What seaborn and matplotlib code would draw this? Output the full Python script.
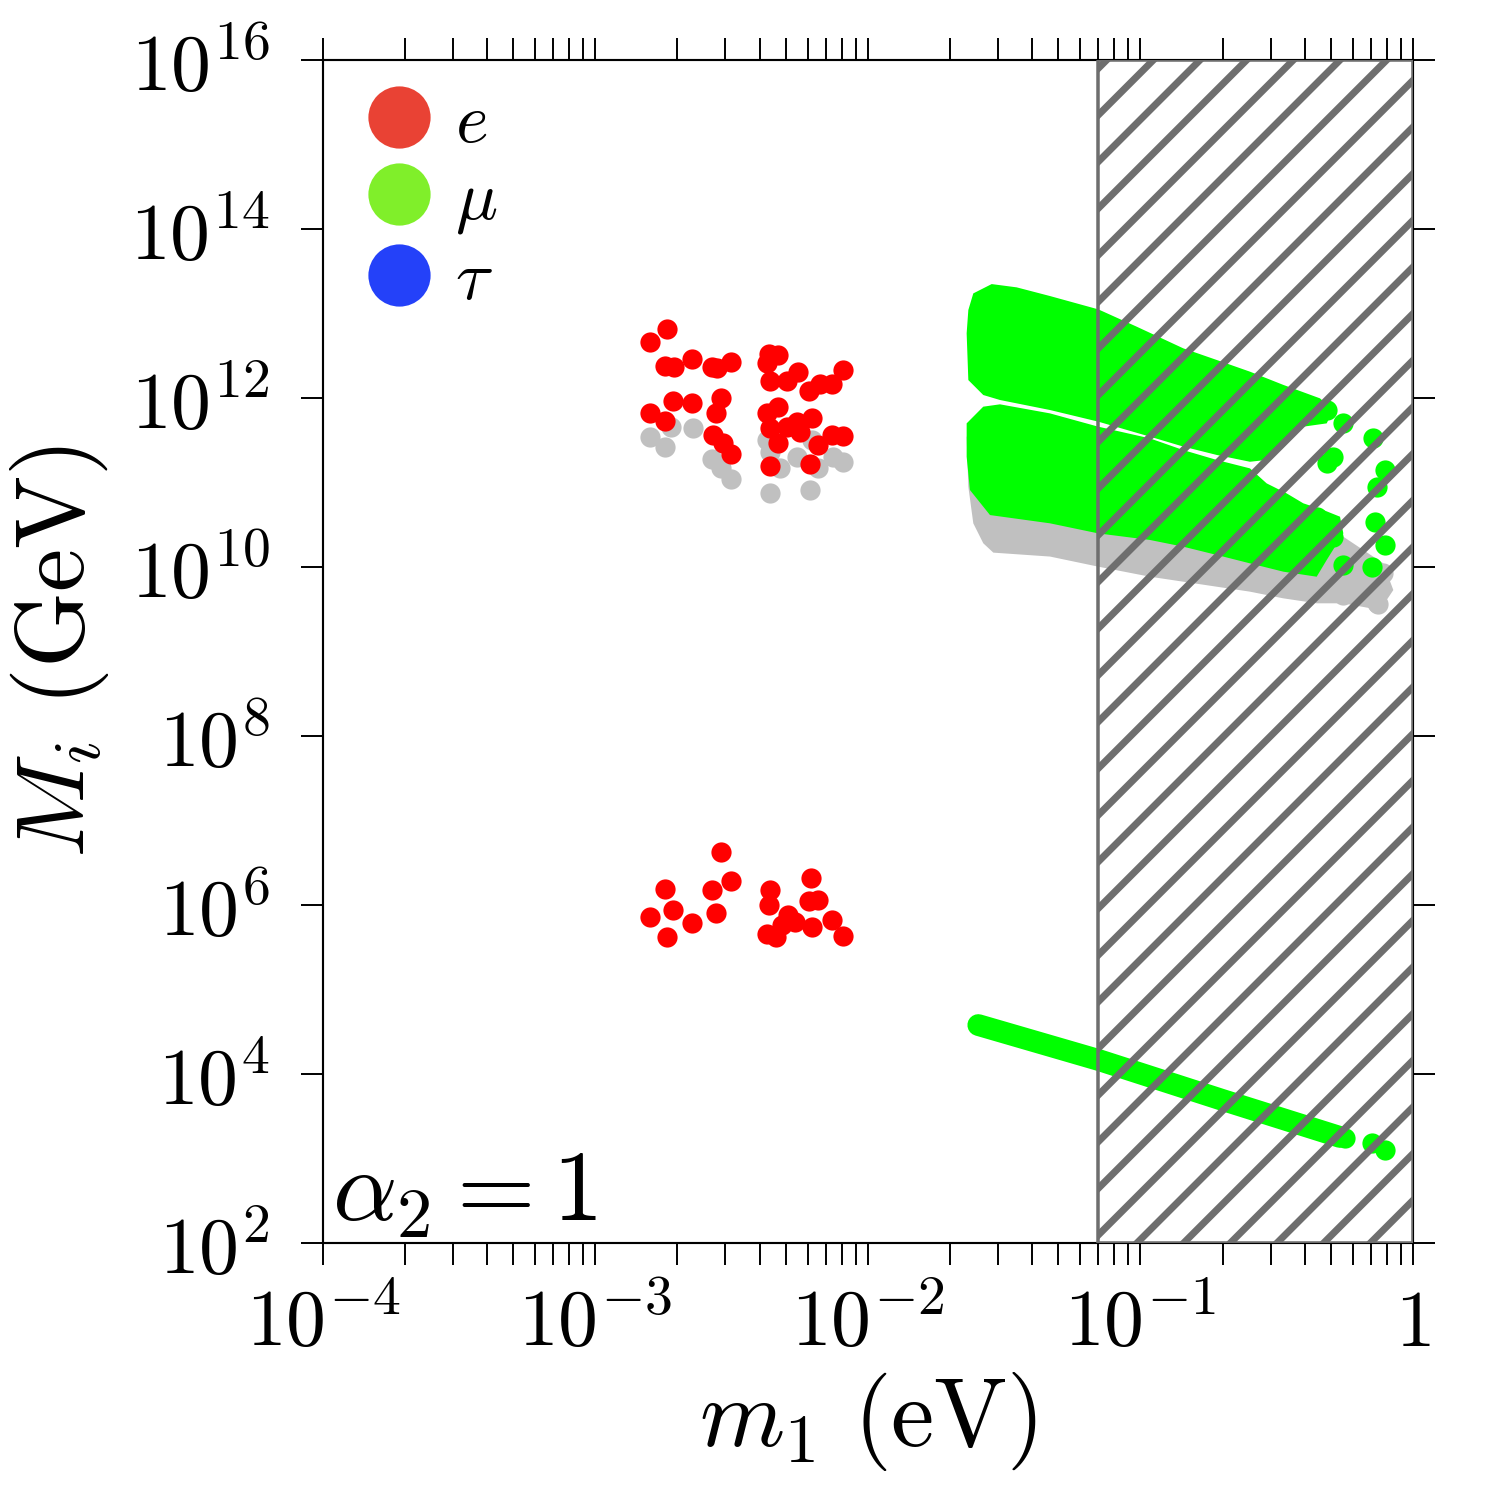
import numpy as np
import matplotlib
matplotlib.use("Agg")
import matplotlib.pyplot as plt
import seaborn as sns
from matplotlib.lines import Line2D
from matplotlib.ticker import LogLocator, NullLocator, NullFormatter

# ---- data (m1 in eV, M_i in GeV) ----
# red (e) points, upper cluster
red_hi_m1 = [1.58e-3, 1.83e-3, 1.80e-3, 1.94e-3, 2.27e-3, 2.67e-3, 2.80e-3, 3.14e-3,
             1.58e-3, 1.80e-3, 1.92e-3, 2.27e-3, 2.90e-3, 2.78e-3, 2.69e-3, 2.93e-3, 3.14e-3,
             4.34e-3, 4.69e-3, 4.25e-3, 4.37e-3, 5.03e-3, 5.55e-3, 6.09e-3, 6.67e-3, 7.36e-3, 8.07e-3,
             4.25e-3, 4.66e-3, 4.37e-3, 5.03e-3, 5.47e-3, 6.22e-3, 5.63e-3, 4.69e-3, 6.57e-3,
             7.36e-3, 8.12e-3, 4.37e-3, 6.12e-3]
red_hi_M = [4.6e12, 6.6e12, 2.4e12, 2.35e12, 2.9e12, 2.35e12, 2.25e12, 2.65e12,
            6.7e11, 5.4e11, 9.2e11, 8.8e11, 1.0e12, 6.7e11, 3.65e11, 2.9e11, 2.2e11,
            3.3e12, 3.2e12, 2.6e12, 1.6e12, 1.6e12, 2.05e12, 1.2e12, 1.45e12, 1.45e12, 2.15e12,
            6.6e11, 7.9e11, 4.4e11, 4.6e11, 5.2e11, 5.75e11, 4.0e11, 2.9e11, 2.8e11,
            3.65e11, 3.55e11, 1.55e11, 1.65e11]

# gray points behind the upper red cluster
gray_hi_m1 = [1.58e-3, 1.80e-3, 1.90e-3, 2.28e-3, 2.67e-3, 2.90e-3, 3.14e-3, 4.25e-3, 4.37e-3,
              4.75e-3, 4.37e-3, 5.47e-3, 6.12e-3, 6.57e-3, 7.46e-3, 8.12e-3, 6.22e-3]
gray_hi_M = [3.5e11, 2.65e11, 4.6e11, 4.4e11, 1.9e11, 1.47e11, 1.1e11, 3.2e11, 2.3e11,
             1.47e11, 7.6e10, 2.0e11, 8.2e10, 1.47e11, 2.0e11, 1.75e11, 3.2e11]

# red (e) points, lower cluster
red_lo_m1 = [2.88e-3, 3.13e-3, 2.68e-3, 1.80e-3, 1.92e-3, 1.58e-3, 1.83e-3, 2.27e-3, 2.78e-3,
             4.37e-3, 4.34e-3, 4.25e-3, 4.60e-3, 5.10e-3, 5.40e-3, 6.16e-3, 6.09e-3, 6.57e-3,
             6.25e-3, 7.36e-3, 8.07e-3, 4.82e-3]
red_lo_M = [4.2e6, 1.9e6, 1.5e6, 1.55e6, 8.7e5, 7.3e5, 4.2e5, 6.2e5, 8.0e5,
            1.5e6, 1.0e6, 4.6e5, 4.2e5, 7.6e5, 6.35e5, 2.1e6, 1.12e6, 1.15e6,
            5.5e5, 6.65e5, 4.3e5, 5.8e5]

# outline of the dense upper green (mu) band
green_top_m1 = [0.02335, 0.02435, 0.02844, 0.03512, 0.04654, 0.0700, 0.0968, 0.1436, 0.1904,
                0.2522, 0.3342, 0.4557, 0.5100,
                0.4822, 0.3959, 0.3342, 0.2904, 0.2522, 0.1904, 0.1436, 0.1083, 0.0700,
                0.04654, 0.03051, 0.02649, 0.02335, 0.02302]
green_top_M = [1.10e13, 1.73e13, 2.23e13, 2.04e13, 1.61e13, 1.12e13, 6.99e12, 3.87e12, 2.82e12,
               2.05e12, 1.43e12, 9.91e11, 7.21e11,
               5.01e11, 4.58e11, 2.60e11, 1.85e11, 1.76e11, 2.12e11, 2.66e11, 3.49e11, 5.25e11,
               7.21e11, 9.47e11, 1.085e12, 1.63e12, 5.83e12]

# outline of the dense middle green (mu) band
green_mid_m1 = [0.02302, 0.02649, 0.03051, 0.04654, 0.0700, 0.1083, 0.1436, 0.1904, 0.2522,
                0.2904, 0.3438, 0.3959, 0.4688, 0.5397,
                0.5551, 0.4822, 0.4431, 0.3342, 0.2522, 0.1904, 0.1436, 0.1083, 0.0700,
                0.04654, 0.02804, 0.02367, 0.02302]
green_mid_M = [5.01e11, 7.90e11, 8.42e11, 6.58e11, 4.58e11, 3.33e11, 2.42e11, 1.85e11, 1.47e11,
               9.77e10, 7.44e10, 5.67e10, 4.73e10, 3.94e10,
               2.50e10, 1.21e10, 7.68e9, 8.81e9, 1.105e10, 1.39e10, 1.74e10, 2.09e10, 2.50e10,
               3.29e10, 4.12e10, 8.15e10, 2.02e11]

# outline of the gray band under the middle green band
gray_band_m1 = [0.02302, 0.02335, 0.02435, 0.02649, 0.02884, 0.04654, 0.0700, 0.1083, 0.1904,
                0.2522, 0.3342, 0.4431, 0.5551, 0.7566, 0.8469, 0.7782, 0.5100, 0.2522, 0.0700]
gray_band_M = [3.49e11, 8.93e10, 3.29e10, 1.91e10, 1.48e10, 1.33e10, 1.01e10, 7.68e9, 5.85e9,
               5.11e9, 4.26e9, 3.72e9, 3.72e9, 3.10e9, 5.34e9, 1.105e10, 2.74e10, 8.93e10, 2.02e11]

# loose green dots at the right end of the bands
green_dots_m1 = [0.5551, 0.7151, 0.7892, 0.7355, 0.7252, 0.7892, 0.7051, 0.5100, 0.5551,
                 0.5100, 0.4431, 0.4822, 0.4822]
green_dots_M = [5.01e11, 3.33e11, 1.41e11, 8.93e10, 3.44e10, 1.82e10, 1.01e10, 2.29e10, 1.056e10,
                2.02e11, 3.94e10, 7.21e11, 1.69e11]

gray_dots_m1 = [0.7782, 0.7355, 0.5551, 0.744]
gray_dots_M = [8.41e9, 3.72e9, 4.66e9, 3.65e9]

# low green band near 10^4 GeV
green_low_m1 = [0.0254, 0.0700, 0.2013, 0.5397]
green_low_M = [3.8e4, 1.47e4, 4.9e3, 1.8e3]
green_low_dots_m1 = [0.563, 0.7055, 0.789]
green_low_dots_M = [1.73e3, 1.51e3, 1.26e3]

excluded_m1 = (0.07, 1.0)

legend_labels = [r"$e$", r"$\mu$", r"$\tau$"]
legend_colors = ["#E94234", "#80EF2A", "#2441F9"]

x_ticks = [1e-4, 1e-3, 1e-2, 1e-1, 1]
x_ticklabels = [r"$10^{-4}$", r"$10^{-3}$", r"$10^{-2}$", r"$10^{-1}$", r"$1$"]
y_ticks = [1e2, 1e4, 1e6, 1e8, 1e10, 1e12, 1e14, 1e16]
y_ticklabels = [r"$10^{%d}$" % p for p in range(2, 17, 2)]

# ---- style ----
DPI = 280
sns.set_theme(style="ticks")
plt.rcParams["font.family"] = ["DejaVu Serif"]
plt.rcParams["mathtext.fontset"] = "cm"
plt.rcParams["hatch.linewidth"] = 1.8
plt.rcParams["hatch.color"] = "#6e6e6e"
plt.rcParams["axes.linewidth"] = 0.55
for key in ["text.color", "axes.labelcolor", "xtick.color", "ytick.color", "axes.edgecolor"]:
    plt.rcParams[key] = "black"

RED, GREEN, GRAY = "#FF0000", "#00FF00", "#C0C0C0"
S = 27

fig = plt.figure(figsize=(1500 / DPI, 1500 / DPI), dpi=DPI)
ax = fig.add_axes([0.2153, 0.1713, 0.942 - 0.2153, 0.96 - 0.1713])
ax.set_xscale("log")
ax.set_yscale("log")

# gray layer
ax.fill(gray_band_m1, gray_band_M, color=GRAY, lw=0, zorder=1)
sns.scatterplot(x=gray_hi_m1, y=gray_hi_M, color=GRAY, s=S, linewidth=0, ax=ax, zorder=1)
sns.scatterplot(x=gray_dots_m1, y=gray_dots_M, color=GRAY, s=S, linewidth=0, ax=ax, zorder=1)

# mu (green)
ax.fill(green_top_m1, green_top_M, color=GREEN, lw=0, zorder=2)
ax.fill(green_mid_m1, green_mid_M, color=GREEN, lw=0, zorder=2)
sns.scatterplot(x=green_dots_m1, y=green_dots_M, color=GREEN, s=S, linewidth=0, ax=ax, zorder=2)
ax.plot(green_low_m1, green_low_M, color=GREEN, lw=5.6, solid_capstyle="round", zorder=2)
sns.scatterplot(x=green_low_dots_m1, y=green_low_dots_M, color=GREEN, s=S, linewidth=0,
                ax=ax, zorder=2)

# e (red)
sns.scatterplot(x=red_hi_m1, y=red_hi_M, color=RED, s=S, linewidth=0, ax=ax, zorder=3)
sns.scatterplot(x=red_lo_m1, y=red_lo_M, color=RED, s=S, linewidth=0, ax=ax, zorder=3)

# excluded region
ax.axvspan(*excluded_m1, facecolor="none", edgecolor="#6e6e6e", hatch="//", lw=0.9, zorder=5)

ax.set_xlim(1e-4, 1)
ax.set_ylim(1e2, 1e16)

ax.set_xticks(x_ticks)
ax.set_xticklabels(x_ticklabels)
ax.xaxis.set_minor_locator(LogLocator(base=10, subs=np.arange(2, 10)))
ax.xaxis.set_minor_formatter(NullFormatter())
ax.set_yticks(y_ticks)
ax.set_yticklabels(y_ticklabels)
ax.yaxis.set_minor_locator(NullLocator())
ax.tick_params(which="both", direction="out", length=5.7, width=0.5, color="black",
               top=True, right=True, labelsize=20.5, labelcolor="black")
ax.tick_params(axis="y", pad=8)
ax.tick_params(axis="x", pad=5)

ax.set_xlabel(r"$m_1\ (\mathrm{eV})$", fontsize=25)
ax.set_ylabel(r"$M_i\ (\mathrm{GeV})$", fontsize=25)
ax.xaxis.set_label_coords(0.5, -0.107)
ax.yaxis.set_label_coords(-0.194, 0.5)

ax.text(0.008, 0.0186, r"$\alpha_2 = 1$", transform=ax.transAxes, fontsize=26,
        ha="left", va="baseline")

handles = [Line2D([], [], ls="none", marker="o", markersize=16, markeredgewidth=0,
                  color=c) for c in legend_colors]
ax.legend(handles, legend_labels, loc="upper left", bbox_to_anchor=(0.0376, 0.975),
          frameon=False, fontsize=18, borderpad=0, borderaxespad=0, handlelength=1.0,
          handletextpad=0.3, labelspacing=0.15)

fig.savefig("out.png", dpi=DPI)
